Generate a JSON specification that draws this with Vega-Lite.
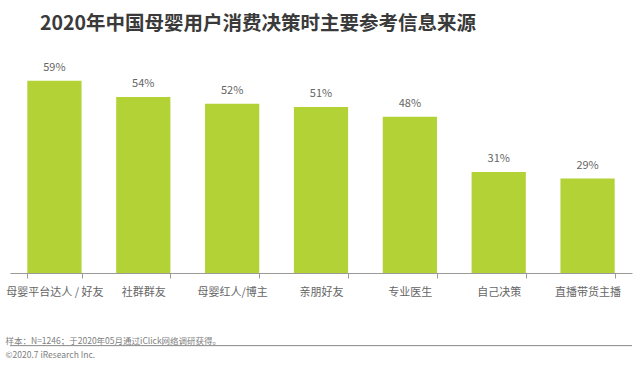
{
  "$schema": "https://vega.github.io/schema/vega-lite/v6.json",
  "autosize": {"type": "none"},
  "width": 622,
  "height": 228,
  "padding": {"left": 10, "top": 45, "right": 8, "bottom": 93},
  "background": "white",
  "config": {
    "font": "Noto Sans CJK SC",
    "view": {"stroke": null}
  },
  "title": {
    "text": "2020年中国母婴用户消费决策时主要参考信息来源",
    "anchor": "start",
    "frame": "group",
    "dx": 30,
    "offset": -4,
    "baseline": "alphabetic",
    "fontSize": 19.5,
    "fontWeight": "bold",
    "color": "#3a3a3a",
    "font": "Noto Sans CJK SC"
  },
  "data": {
    "values": [
      {"source": "母婴平台达人 / 好友", "pct": 0.59},
      {"source": "社群群友", "pct": 0.54},
      {"source": "母婴红人/博主", "pct": 0.52},
      {"source": "亲朋好友", "pct": 0.51},
      {"source": "专业医生", "pct": 0.48},
      {"source": "自己决策", "pct": 0.31},
      {"source": "直播带货主播", "pct": 0.29}
    ]
  },
  "encoding": {
    "x": {
      "field": "source",
      "type": "nominal",
      "sort": null,
      "scale": {"paddingInner": 0.39, "paddingOuter": 0.195},
      "axis": {
        "title": ["样本：N=1246；于2020年05月通过iClick网络调研获得。", "©2020.7 iResearch Inc."],
        "titleFontSize": 8.5,
        "titleFontWeight": "normal",
        "titleColor": "#808080",
        "titleAnchor": "start",
        "titleAlign": "left",
        "titleBaseline": "middle",
        "titleLineHeight": 14,
        "titleX": -5,
        "titleY": 67,
        "labelAngle": 0,
        "labelFontSize": 11,
        "labelColor": "#666666",
        "labelPadding": 8,
        "tickBand": "extent",
        "tickSize": 5,
        "tickColor": "#9a9a9a",
        "domainColor": "#9a9a9a",
        "grid": false
      }
    }
  },
  "layer": [
    {
      "mark": {"type": "bar", "color": "#b2d235"},
      "encoding": {
        "y": {
          "field": "pct",
          "type": "quantitative",
          "scale": {"domain": [0, 0.7]},
          "axis": null
        }
      }
    },
    {
      "mark": {"type": "text", "baseline": "bottom", "dy": -8, "fontSize": 11, "color": "#666666"},
      "encoding": {
        "y": {"field": "pct", "type": "quantitative"},
        "text": {"field": "pct", "type": "quantitative", "format": ".0%"}
      }
    },
    {
      "data": {"values": [{"line": -0.223}]},
      "mark": {"type": "rule", "color": "#888888", "strokeWidth": 1, "clip": false},
      "encoding": {
        "x": null,
        "y": {"field": "line", "type": "quantitative"}
      }
    }
  ]
}
